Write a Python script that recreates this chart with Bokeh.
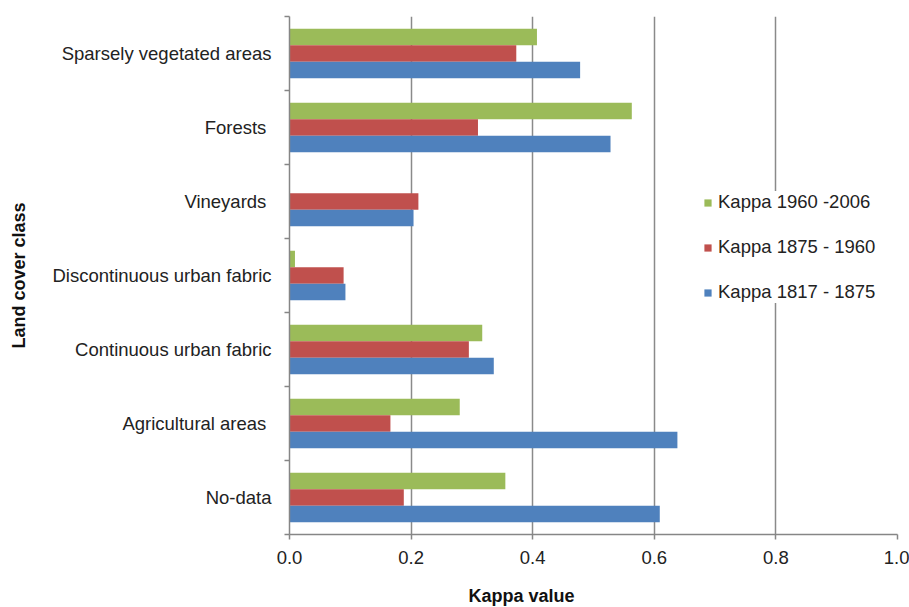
from bokeh.plotting import figure
from bokeh.models import (FixedTicker, Range1d, Legend, LegendItem, Title,
                          ColumnDataSource, NumeralTickFormatter)
from bokeh.embed import file_html
from bokeh.resources import INLINE

# Categories listed top to bottom as in the chart
categories = ["Sparsely vegetated areas", "Forests ", "Vineyards ",
              "Discontinuous urban fabric", "Continuous urban fabric",
              "Agricultural areas ", "No-data"]
kappa_1960_2006 = [0.407, 0.563, 0.0, 0.009, 0.317, 0.280, 0.355]
kappa_1875_1960 = [0.373, 0.310, 0.212, 0.089, 0.295, 0.166, 0.188]
kappa_1817_1875 = [0.478, 0.528, 0.204, 0.092, 0.336, 0.638, 0.609]
series_names = ["Kappa 1960 -2006", "Kappa 1875 - 1960", "Kappa 1817 - 1875"]
series_colors = ["#9BBB59", "#C0504D", "#4F81BD"]
x_ticks = [0.0, 0.2, 0.4, 0.6, 0.8, 1.0]

FONT = "Liberation Sans"
FS = "18.5px"
n = len(categories)
centers = [n - 1 - i + 0.5 for i in range(n)]

p = figure(width=909, height=607, output_backend="svg", toolbar_location=None,
           x_range=Range1d(0, 1.0), y_range=Range1d(0, n),
           min_border_left=289, min_border_right=12, min_border_top=16,
           min_border_bottom=73)
p.outline_line_color = None
p.background_fill_color = "white"
p.border_fill_color = "white"

bar_h = 0.223
offsets = [bar_h, 0.0, -bar_h]
renderers = []
for vals, off, col in zip([kappa_1960_2006, kappa_1875_1960, kappa_1817_1875],
                          offsets, series_colors):
    src = ColumnDataSource(dict(y=[c + off for c in centers], right=vals))
    r = p.hbar(y="y", left=0, right="right", height=bar_h, source=src,
               fill_color=col, line_color=None)
    renderers.append(r)

# x axis
p.xaxis.ticker = FixedTicker(ticks=x_ticks, minor_ticks=[])
p.xaxis.formatter = NumeralTickFormatter(format="0.0")
p.xaxis.axis_line_color = "#868686"
p.xaxis.axis_line_width = 1.5
p.xaxis.major_tick_line_color = "#868686"
p.xaxis.major_tick_line_width = 1.5
p.xaxis.major_tick_out = 5
p.xaxis.major_tick_in = 0
p.xaxis.minor_tick_line_color = None
p.xaxis.major_label_text_font = FONT
p.xaxis.major_label_text_font_size = FS
p.xaxis.major_label_text_color = "#222222"
p.xaxis.major_label_standoff = 11

# y axis: labels at band centers, ticks at band boundaries
p.yaxis.ticker = FixedTicker(ticks=centers, minor_ticks=list(range(n + 1)))
p.yaxis.major_label_overrides = {c: lab for c, lab in zip(centers, categories)}
p.yaxis.axis_line_color = "#868686"
p.yaxis.axis_line_width = 1.5
p.yaxis.major_tick_line_color = None
p.yaxis.major_tick_out = 0
p.yaxis.major_tick_in = 0
p.yaxis.minor_tick_line_color = "#868686"
p.yaxis.minor_tick_line_width = 1.5
p.yaxis.minor_tick_out = 5
p.yaxis.minor_tick_in = 0
p.yaxis.major_label_text_font = FONT
p.yaxis.major_label_text_font_size = FS
p.yaxis.major_label_text_color = "#222222"
p.yaxis.major_label_standoff = 13
p.yaxis.axis_label = "Land cover class"
p.yaxis.axis_label_text_font = FONT
p.yaxis.axis_label_text_font_size = "18px"
p.yaxis.axis_label_text_font_style = "bold"
p.yaxis.axis_label_text_color = "#111111"
p.yaxis.axis_label_standoff = 20

# grid
p.xgrid.ticker = FixedTicker(ticks=x_ticks)
p.xgrid.grid_line_color = "#8a8a8a"
p.xgrid.grid_line_width = 1.5
p.ygrid.grid_line_color = None

# spacer between the tick labels and the x title
spacer = Title(text=" ", text_font_size="2px", standoff=12)
p.add_layout(spacer, "below")

# x axis title, left of centre like the original
xt = Title(text="Kappa value", align="left", offset=179,
           text_font=FONT, text_font_size="18px", text_font_style="bold",
           text_color="#111111", standoff=2)
p.add_layout(xt, "below")

# legend
items = [LegendItem(label=nm, renderers=[r]) for nm, r in zip(series_names, renderers)]
legend = Legend(items=items, location=(414, 231), orientation="vertical",
                label_text_font=FONT, label_text_font_size=FS,
                label_text_color="#222222", glyph_width=9, glyph_height=9,
                label_height=20, label_standoff=6, spacing=23, padding=11,
                border_line_color=None, background_fill_color="white",
                background_fill_alpha=1.0, margin=0)
p.add_layout(legend, "center")

open("out.html", "w").write(file_html(p, INLINE))
